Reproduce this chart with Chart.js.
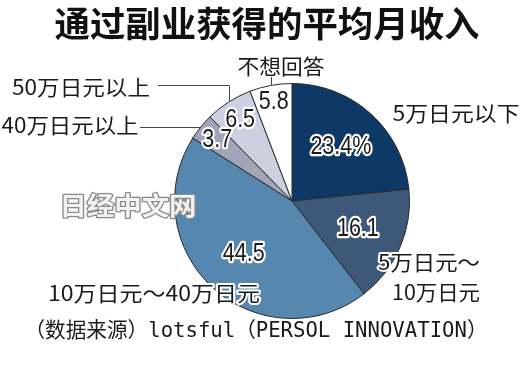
<!DOCTYPE html>
<html>
<head>
<meta charset="utf-8">
<script src="https://cdn.jsdelivr.net/npm/chart.js@4"></script>
<style>
  html, body { margin: 0; padding: 0; background: #fff; }
  #wrap { width: 525px; height: 385px; }
</style>
</head>
<body>
<div id="wrap"><canvas id="pieChart" width="525" height="385"></canvas></div>
<script>
// Data (percent, clockwise from 12 o'clock)
const categories = ['5万日元以下', '5万日元～10万日元', '10万日元～40万日元', '40万日元以上', '50万日元以上', '不想回答'];
const shares = [23.4, 16.1, 44.5, 3.7, 6.5, 5.8];
const valueLabels = ['23.4%', '16.1', '44.5', '3.7', '6.5', '5.8'];
const sliceColors = ['#0e3966', '#3d5878', '#5687ae', '#a2a5b8', '#cdd0e0', '#ffffff'];

const titleText = '通过副业获得的平均月收入';
const sourceText = '（数据来源）lotsful（PERSOL INNOVATION）';
const watermarkText = '日经中文网';

const CJK = '"Noto Sans CJK SC", "Noto Sans", sans-serif';
const MONO = '"DejaVu Sans Mono", "Noto Sans CJK SC", monospace';
const NUM = '"Liberation Sans", Arial, sans-serif';

// how far out (share of radius) each value label sits
const labelRadius = [0.62, 0.61, 0.61, 0.82, 0.82, 0.86];

// draw text centred at x,y, squeezed to width w if given
function drawText(ctx, text, x, y, font, w, fill, halo, haloColor) {
    ctx.save();
    ctx.font = font;
    ctx.textAlign = 'center';
    ctx.textBaseline = 'middle';
    const m = ctx.measureText(text).width;
    const sx = w ? w / m : 1;
    ctx.translate(x, y);
    ctx.scale(sx, 1);
    if (halo) {
        ctx.lineJoin = 'round';
        ctx.lineWidth = halo;
        ctx.strokeStyle = haloColor || '#fff';
        ctx.strokeText(text, 0, 0);
    }
    ctx.fillStyle = fill;
    ctx.fillText(text, 0, 0);
    ctx.restore();
}

function edgePoint(arc, f) {
    const a = (arc.startAngle + arc.endAngle) / 2;
    const r = arc.outerRadius * f;
    return { x: arc.x + Math.cos(a) * r, y: arc.y + Math.sin(a) * r };
}

const textPlugin = {
    id: 'textPlugin',
    afterDraw(chart) {
        const ctx = chart.ctx;
        const arcs = chart.getDatasetMeta(0).data;

        // title
        drawText(ctx, titleText, 267, 24, 'bold 35px ' + CJK, 425, '#111');

        // leader lines
        ctx.save();
        ctx.strokeStyle = '#444';
        ctx.lineWidth = 1;
        const p50 = edgePoint(arcs[4], 1);
        ctx.beginPath();
        ctx.moveTo(158, 85.5);
        ctx.lineTo(Math.round(p50.x) + 0.5, 85.5);
        ctx.lineTo(Math.round(p50.x) + 0.5, p50.y);
        ctx.stroke();
        const p40 = edgePoint(arcs[3], 1);
        ctx.beginPath();
        ctx.moveTo(140, Math.round(p40.y) + 0.5);
        ctx.lineTo(p40.x, Math.round(p40.y) + 0.5);
        ctx.stroke();
        const pNo = edgePoint(arcs[5], 1);
        ctx.beginPath();
        ctx.moveTo(Math.round(pNo.x) + 0.5, 77);
        ctx.lineTo(Math.round(pNo.x) + 0.5, pNo.y);
        ctx.stroke();
        ctx.restore();

        // value labels inside slices
        arcs.forEach((arc, i) => {
            const p = edgePoint(arc, labelRadius[i]);
            ctx.font = '25px ' + NUM;
            const w = ctx.measureText(valueLabels[i]).width * 0.86;
            drawText(ctx, valueLabels[i], p.x, p.y, '25px ' + NUM, w, '#1a1a1a', 4.5);
        });

        // category labels
        const f = '21px ' + CJK;
        drawText(ctx, categories[5], 281, 66, f, 87, '#1a1a1a');
        drawText(ctx, categories[0], 456, 113, f, 127, '#1a1a1a');
        drawText(ctx, categories[4], 81, 87, f, 138, '#1a1a1a');
        drawText(ctx, categories[3], 70, 125, f, 137, '#1a1a1a');
        drawText(ctx, '5万日元～', 429, 262, f, 102, '#1a1a1a', 4);
        drawText(ctx, '10万日元', 436, 292, f, 88, '#1a1a1a');
        drawText(ctx, categories[2], 154, 293, f, 212, '#1a1a1a', 4);

        // source
        drawText(ctx, sourceText, 256, 332, '21px ' + MONO, 463, '#1a1a1a');

        // watermark
        drawText(ctx, watermarkText, 128, 205, 'bold 25px ' + CJK, 137, '#f2f2f2', 2.5, '#8a8a8a');
    }
};

const ctxPie = document.getElementById('pieChart').getContext('2d');
const pieChart = new Chart(ctxPie, {
    type: 'pie',
    data: {
        labels: categories,
        datasets: [{
            data: shares,
            backgroundColor: sliceColors,
            borderColor: '#2a2a2a',
            borderWidth: 1
        }]
    },
    options: {
        responsive: false,
        animation: false,
        layout: {
            padding: { left: 174, right: 115, top: 83, bottom: 66 }
        },
        plugins: {
            legend: { display: false },
            tooltip: { enabled: false },
            title: { display: false }
        }
    },
    plugins: [textPlugin]
});
</script>
</body>
</html>
